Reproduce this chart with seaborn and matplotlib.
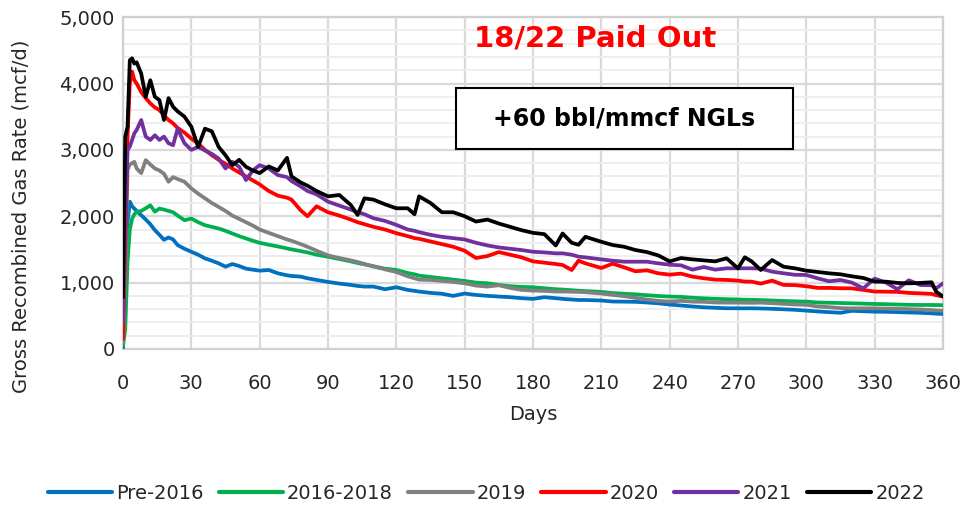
import numpy as np
import pandas as pd
import matplotlib
matplotlib.use("Agg")
import matplotlib.pyplot as plt
from matplotlib.patches import Rectangle
from matplotlib.ticker import FuncFormatter, MultipleLocator
import seaborn as sns

# days on production (shared grid)
days = [0, 1, 2, 3, 4, 5, 6, 8, 10, 12, 14, 16, 18, 20, 22, 24, 27, 30, 33, 36,
        39, 42, 45, 48, 51, 54, 57, 60, 64, 68, 72, 74, 78, 81, 85, 90, 95, 100,
        103, 106, 110, 115, 120, 125, 128, 130, 135, 140, 145, 150, 155, 160,
        165, 170, 175, 180, 185, 190, 193, 197, 200, 203, 210, 215, 220, 225,
        230, 235, 240, 245, 250, 255, 260, 265, 270, 273, 276, 280, 285, 290,
        295, 300, 305, 310, 315, 320, 325, 330, 335, 340, 345, 350, 355, 357, 360]

# gross recombined gas rate, mcf/d
pre_2016 = [0, 800, 1900, 2220, 2150, 2115, 2080, 2015, 1950, 1880, 1790, 1720,
            1645, 1680, 1650, 1565, 1510, 1465, 1420, 1365, 1330, 1290, 1240,
            1280, 1250, 1210, 1195, 1180, 1190, 1140, 1110, 1100, 1090, 1065,
            1040, 1010, 985, 965, 950, 940, 940, 900, 930, 890, 875, 865, 845,
            832, 800, 835, 814, 800, 790, 780, 765, 755, 780, 765, 755, 745,
            738, 738, 730, 715, 713, 710, 700, 688, 670, 655, 640, 628, 620,
            613, 613, 612, 613, 610, 605, 598, 590, 578, 565, 555, 545, 575,
            568, 562, 560, 555, 550, 545, 537, 532, 527]
y2016_2018 = [50, 300, 1300, 1800, 1960, 2030, 2065, 2080, 2120, 2165, 2070,
              2115, 2100, 2080, 2060, 2010, 1940, 1965, 1910, 1865, 1840, 1815,
              1780, 1740, 1700, 1665, 1630, 1600, 1570, 1545, 1515, 1500, 1475,
              1455, 1420, 1390, 1355, 1320, 1295, 1275, 1245, 1210, 1190, 1145,
              1125, 1105, 1085, 1065, 1045, 1025, 1000, 990, 965, 945, 935, 930,
              915, 900, 895, 885, 878, 872, 860, 842, 832, 823, 810, 798, 790,
              785, 772, 763, 755, 750, 745, 742, 740, 737, 730, 723, 718, 713,
              700, 696, 692, 688, 683, 678, 675, 670, 665, 663, 663, 662, 660]
y2019 = [100, 1100, 2700, 2780, 2800, 2820, 2720, 2650, 2845, 2780, 2720, 2690,
         2640, 2520, 2590, 2560, 2520, 2420, 2340, 2270, 2200, 2140, 2080, 2010,
         1960, 1910, 1860, 1800, 1750, 1700, 1650, 1630, 1580, 1540, 1480, 1410,
         1370, 1335, 1310, 1280, 1245, 1200, 1160, 1095, 1065, 1045, 1040, 1025,
         1010, 990, 955, 940, 960, 920, 890, 880, 875, 865, 865, 862, 860, 855,
         835, 815, 795, 770, 745, 725, 715, 725, 713, 710, 700, 698, 698, 696,
         695, 698, 690, 680, 670, 665, 640, 630, 615, 612, 612, 612, 608, 605,
         600, 595, 585, 580, 577]
y2020 = [150, 1500, 3200, 4000, 4180, 4050, 4000, 3870, 3780, 3700, 3640, 3600,
         3520, 3450, 3400, 3330, 3260, 3170, 3095, 3000, 2920, 2850, 2790, 2720,
         2660, 2600, 2540, 2480, 2380, 2310, 2280, 2250, 2090, 2000, 2150, 2060,
         2010, 1950, 1910, 1880, 1840, 1800, 1745, 1700, 1670, 1660, 1620, 1580,
         1540, 1480, 1370, 1400, 1460, 1420, 1380, 1320, 1300, 1280, 1265, 1190,
         1330, 1290, 1220, 1285, 1230, 1170, 1185, 1140, 1120, 1135, 1090, 1065,
         1045, 1040, 1030, 1015, 1014, 985, 1030, 965, 962, 945, 920, 920, 915,
         913, 890, 865, 863, 860, 845, 838, 830, 810, 790]
y2021 = [400, 1800, 3000, 3050, 3150, 3250, 3300, 3450, 3200, 3150, 3220, 3150,
         3200, 3100, 3070, 3320, 3100, 3000, 3045, 2990, 2940, 2870, 2720, 2820,
         2745, 2545, 2690, 2770, 2720, 2620, 2590, 2530, 2450, 2380, 2330, 2220,
         2160, 2100, 2060, 2030, 1970, 1930, 1870, 1800, 1780, 1760, 1720, 1690,
         1670, 1650, 1600, 1560, 1530, 1510, 1490, 1465, 1455, 1441, 1441, 1420,
         1391, 1380, 1350, 1330, 1315, 1315, 1315, 1290, 1270, 1260, 1195, 1235,
         1195, 1215, 1215, 1215, 1215, 1210, 1165, 1140, 1118, 1115, 1064, 1020,
         1039, 1000, 913, 1060, 1000, 900, 1035, 964, 960, 913, 989]
y2022 = [780, 3200, 3350, 4350, 4380, 4300, 4320, 4150, 3800, 4050, 3800, 3750,
         3450, 3780, 3650, 3580, 3500, 3350, 3045, 3320, 3280, 3045, 2920, 2770,
         2850, 2745, 2690, 2650, 2750, 2690, 2880, 2600, 2510, 2460, 2380, 2300,
         2320, 2170, 2020, 2270, 2250, 2180, 2120, 2120, 2030, 2300, 2200, 2060,
         2060, 2000, 1920, 1950, 1890, 1840, 1790, 1750, 1730, 1560, 1740, 1600,
         1570, 1690, 1615, 1566, 1540, 1491, 1460, 1410, 1320, 1370, 1350, 1335,
         1320, 1366, 1215, 1381, 1320, 1190, 1340, 1240, 1215, 1180, 1160, 1140,
         1125, 1095, 1070, 1014, 1014, 995, 989, 995, 1005, 863, 790]

series_names = ["Pre-2016", "2016-2018", "2019", "2020", "2021", "2022"]
series_values = [pre_2016, y2016_2018, y2019, y2020, y2021, y2022]
colors = ["#0070C0", "#00B050", "#808080", "#FF0000", "#7030A0", "#000000"]

frames = []
for name, vals in zip(series_names, series_values):
    frames.append(pd.DataFrame({"Days": days, "Rate": vals, "Series": name}))
df = pd.concat(frames, ignore_index=True)

sns.set_style("white")
plt.rcParams["font.family"] = ["DejaVu Sans"]

fig = plt.figure(figsize=(9.63, 5.05), dpi=100)
ax = fig.add_axes([0.1277, 0.309, 0.8515, 0.657])

sns.lineplot(data=df, x="Days", y="Rate", hue="Series", hue_order=series_names,
             palette=dict(zip(series_names, colors)), estimator=None, sort=False,
             linewidth=2.7, ax=ax, legend=False, zorder=3)

ax.set_xlim(0, 360)
ax.set_ylim(0, 5000)
ax.xaxis.set_major_locator(MultipleLocator(30))
ax.yaxis.set_major_locator(MultipleLocator(1000))
ax.yaxis.set_minor_locator(MultipleLocator(200))
ax.yaxis.set_major_formatter(FuncFormatter(lambda v, p: f"{int(v):,}"))
ax.grid(True, which="major", color="#d9d9d9", linewidth=1.6, zorder=0)
ax.grid(True, which="minor", axis="y", color="#ededed", linewidth=1.3, zorder=0)
ax.set_axisbelow(True)
for s in ax.spines.values():
    s.set_color("#d0d0d0")
    s.set_linewidth(1.6)
ax.tick_params(axis="y", which="both", length=0, labelsize=14, pad=6)
ax.tick_params(axis="x", which="both", length=0, labelsize=14, pad=18)

ax.set_xlabel("Days", fontsize=14, labelpad=9)
ax.set_ylabel("Gross Recombined Gas Rate (mcf/d)", fontsize=14)
ax.yaxis.set_label_coords(-0.113, 0.40)

ax.text(0.576, 0.935, "18/22 Paid Out", transform=ax.transAxes, color="#FF0000",
        fontsize=21, fontweight="bold", ha="center", va="center", zorder=6)
ax.add_patch(Rectangle((0.406, 0.602), 0.411, 0.184, transform=ax.transAxes,
                       facecolor="white", edgecolor="black", linewidth=1.5, zorder=5))
ax.text(0.611, 0.696, "+60 bbl/mmcf NGLs", transform=ax.transAxes, color="black",
        fontsize=17, fontweight="bold", ha="center", va="center", zorder=6)

handles = [plt.Line2D([], [], color=c, linewidth=3) for c in colors]
fig.legend(handles, series_names, loc="lower center", bbox_to_anchor=(0.505, -0.03),
           ncol=6, frameon=False, fontsize=14, handlelength=3.3,
           columnspacing=0.8, handletextpad=0.2)

fig.savefig("out.png", dpi=100)
